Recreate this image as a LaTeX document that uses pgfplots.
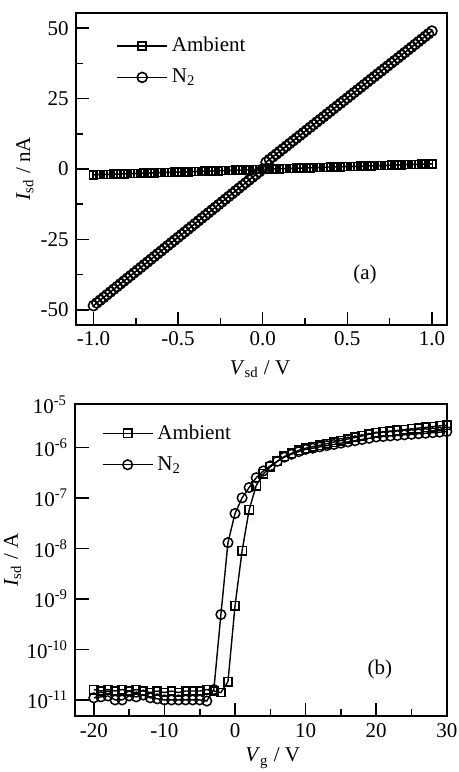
\documentclass[border=0pt]{standalone}
\usepackage{pgfplots}
\pgfplotsset{compat=1.18}
\usepackage{fontspec}
\setmainfont{Liberation Serif}

\newcommand{\fs}{\fontsize{10.5}{12}\selectfont}

\pgfplotsset{
  panel/.style={
    scale only axis,
    axis line style={line width=1pt},
    tick style={line width=0.8pt, black},
    major tick length=6.5pt, minor tick length=3.5pt,
    tick pos=left, tick align=inside,
    /pgf/number format/assume math mode=true,
    ticklabel style={font=\fs},
    label style={font=\fontsize{11}{13}\selectfont},
    legend style={draw=none, fill=none, font=\fs, inner sep=0pt, row sep=3pt},
    legend cell align=left,
    legend image code/.code={\draw[mark repeat=2, mark phase=2] plot coordinates {(0pt,0pt) (12.5pt,0pt) (25pt,0pt)};},
  },
}

\begin{document}
\fs
\begin{tikzpicture}
\useasboundingbox (0,0) rectangle (229.5pt,-386pt);

% (a) output curve
\begin{axis}[panel,
  at={(38pt,-6.65pt)}, anchor=north west,
  width=185.5pt, height=155.6pt,
  xmin=-1.103, xmax=1.089, ymin=-55.2, ymax=55.3,
  xtick={-1,-0.5,0,0.5,1}, xticklabels={-1.0,-0.5,0.0,0.5,1.0},
  ytick={-50,-25,0,25,50}, yticklabels={-50,-25,0,25,50},
  minor x tick num=1, minor y tick num=1,
  xlabel={\textit{V}\textsubscript{sd} / V},
  ylabel={\textit{I}\textsubscript{sd} / nA},
  every axis x label/.style={at={(axis description cs:0.496,-0.144)}, anchor=center},
  every axis y label/.style={at={(axis description cs:-0.1375,0.5)}, rotate=90, anchor=center},
  legend style={at={(axis description cs:0.108,0.845)}, anchor=west},
]
\addplot[black, line width=0.75pt, mark=square, mark size=2pt, mark options={solid, fill=white, line width=0.75pt}] coordinates {
(-1.00,-2.05) (-0.98,-2.01) (-0.96,-1.97) (-0.94,-1.93) (-0.92,-1.89) (-0.90,-1.86) (-0.88,-1.82) (-0.86,-1.78) (-0.84,-1.74) (-0.82,-1.70)
(-0.80,-1.66) (-0.78,-1.62) (-0.76,-1.58) (-0.74,-1.54) (-0.72,-1.50) (-0.70,-1.47) (-0.68,-1.43) (-0.66,-1.39) (-0.64,-1.35) (-0.62,-1.31)
(-0.60,-1.27) (-0.58,-1.23) (-0.56,-1.19) (-0.54,-1.15) (-0.52,-1.11) (-0.50,-1.08) (-0.48,-1.04) (-0.46,-1.00) (-0.44,-0.96) (-0.42,-0.92)
(-0.40,-0.88) (-0.38,-0.84) (-0.36,-0.80) (-0.34,-0.76) (-0.32,-0.72) (-0.30,-0.69) (-0.28,-0.65) (-0.26,-0.61) (-0.24,-0.57) (-0.22,-0.53)
(-0.20,-0.49) (-0.18,-0.45) (-0.16,-0.41) (-0.14,-0.37) (-0.12,-0.33) (-0.10,-0.30) (-0.08,-0.26) (-0.06,-0.22) (-0.04,-0.18) (-0.02,-0.14)
(0.00,-0.10) (0.02,-0.06) (0.04,-0.02) (0.06,0.02) (0.08,0.06) (0.10,0.10) (0.12,0.13) (0.14,0.17) (0.16,0.21) (0.18,0.25)
(0.20,0.29) (0.22,0.33) (0.24,0.37) (0.26,0.41) (0.28,0.45) (0.30,0.49) (0.32,0.52) (0.34,0.56) (0.36,0.60) (0.38,0.64)
(0.40,0.68) (0.42,0.72) (0.44,0.76) (0.46,0.80) (0.48,0.84) (0.50,0.88) (0.52,0.91) (0.54,0.95) (0.56,0.99) (0.58,1.03)
(0.60,1.07) (0.62,1.11) (0.64,1.15) (0.66,1.19) (0.68,1.23) (0.70,1.27) (0.72,1.30) (0.74,1.34) (0.76,1.38) (0.78,1.42)
(0.80,1.46) (0.82,1.50) (0.84,1.54) (0.86,1.58) (0.88,1.62) (0.90,1.66) (0.92,1.69) (0.94,1.73) (0.96,1.77) (0.98,1.81) (1.00,1.85)
};
\addlegendentry{Ambient}
\addplot[black, line width=0.75pt, mark=o, mark size=2.5pt, mark options={solid, fill=white, line width=0.8pt}] coordinates {
(-1.00,-48.50) (-0.98,-47.53) (-0.96,-46.56) (-0.94,-45.59) (-0.92,-44.62) (-0.90,-43.65) (-0.88,-42.68) (-0.86,-41.71) (-0.84,-40.74) (-0.82,-39.77)
(-0.80,-38.80) (-0.78,-37.83) (-0.76,-36.86) (-0.74,-35.89) (-0.72,-34.92) (-0.70,-33.95) (-0.68,-32.98) (-0.66,-32.01) (-0.64,-31.04) (-0.62,-30.07)
(-0.60,-29.10) (-0.58,-28.13) (-0.56,-27.16) (-0.54,-26.19) (-0.52,-25.22) (-0.50,-24.25) (-0.48,-23.28) (-0.46,-22.31) (-0.44,-21.34) (-0.42,-20.37)
(-0.40,-19.40) (-0.38,-18.43) (-0.36,-17.46) (-0.34,-16.49) (-0.32,-15.52) (-0.30,-14.55) (-0.28,-13.58) (-0.26,-12.61) (-0.24,-11.64) (-0.22,-10.67)
(-0.20,-9.70) (-0.18,-8.73) (-0.16,-7.76) (-0.14,-6.79) (-0.12,-5.82) (-0.10,-4.85) (-0.08,-3.88) (-0.06,-2.91) (-0.04,-1.94) (-0.02,-0.97)
(0.00,0.00) (0.02,2.45) (0.04,3.40) (0.06,4.35) (0.08,5.30) (0.10,6.25) (0.12,7.20) (0.14,8.15) (0.16,9.10) (0.18,10.05)
(0.20,11.00) (0.22,11.95) (0.24,12.90) (0.26,13.85) (0.28,14.80) (0.30,15.75) (0.32,16.70) (0.34,17.65) (0.36,18.60) (0.38,19.55)
(0.40,20.50) (0.42,21.45) (0.44,22.40) (0.46,23.35) (0.48,24.30) (0.50,25.25) (0.52,26.20) (0.54,27.15) (0.56,28.10) (0.58,29.05)
(0.60,30.00) (0.62,30.95) (0.64,31.90) (0.66,32.85) (0.68,33.80) (0.70,34.75) (0.72,35.70) (0.74,36.65) (0.76,37.60) (0.78,38.55)
(0.80,39.50) (0.82,40.45) (0.84,41.40) (0.86,42.35) (0.88,43.30) (0.90,44.25) (0.92,45.20) (0.94,46.15) (0.96,47.10) (0.98,48.05) (1.00,49.00)
};
\addlegendentry{N\textsubscript{2}}
\node at (rel axis cs:0.779,0.160) {(a)};
\end{axis}

% (b) transfer curve
\begin{axis}[panel,
  at={(37.75pt,-202.15pt)}, anchor=north west,
  width=186pt, height=155.85pt,
  ymode=log,
  xmin=-22.6, xmax=30.1, ymin=4.8e-12, ymax=7.1e-6,
  xtick={-20,-10,0,10,20,30}, xticklabels={-20,-10,0,10,20,30},
  minor x tick num=1,
  ytick={1e-11,1e-10,1e-9,1e-8,1e-7,1e-6},
  yticklabels={10\textsuperscript{-11},10\textsuperscript{-10},10\textsuperscript{-9},10\textsuperscript{-8},10\textsuperscript{-7},10\textsuperscript{-6}},
  yminorticks=false,
  xlabel={\textit{V}\textsubscript{g} / V},
  ylabel={\textit{I}\textsubscript{sd} / A},
  every axis x label/.style={at={(axis description cs:0.53,-0.135)}, anchor=center},
  every axis y label/.style={at={(axis description cs:-0.169,0.5)}, rotate=90, anchor=center},
  legend style={at={(axis description cs:0.07,0.857)}, anchor=west},
  clip=false,
]
\addplot[black, line width=0.7pt, mark=square, mark size=2.1pt, mark options={solid, fill=white, line width=0.75pt}] coordinates {
(-20,1.6e-11) (-19,1.5e-11) (-18,1.6e-11) (-17,1.5e-11) (-16,1.6e-11) (-15,1.5e-11) (-14,1.6e-11) (-13,1.5e-11) (-12,1.4e-11) (-11,1.5e-11)
(-10,1.4e-11) (-9,1.5e-11) (-8,1.4e-11) (-7,1.5e-11) (-6,1.5e-11) (-5,1.5e-11) (-4,1.6e-11) (-3,1.5e-11) (-2,1.4e-11) (-1,2.3e-11)
(0,7.3e-10) (1,8.9e-9) (2,5.8e-8) (3,1.75e-7) (4,3.0e-7) (5,4.1e-7) (6,5.3e-7) (7,6.6e-7) (8,7.6e-7) (9,8.7e-7)
(10,9.6e-7) (11,1.03e-6) (12,1.10e-6) (13,1.18e-6) (14,1.27e-6) (15,1.36e-6) (16,1.46e-6) (17,1.57e-6) (18,1.68e-6) (19,1.81e-6)
(20,1.95e-6) (21,2.02e-6) (22,2.09e-6) (23,2.16e-6) (24,2.24e-6) (25,2.32e-6) (26,2.40e-6) (27,2.48e-6) (28,2.57e-6) (29,2.66e-6) (30,2.75e-6)
};
\addlegendentry{Ambient}
\addplot[black, line width=0.7pt, mark=o, mark size=2.4pt, mark options={solid, fill=white, line width=0.75pt}] coordinates {
(-20,1.1e-11) (-19,1.15e-11) (-18,1.2e-11) (-17,1.0e-11) (-16,1.0e-11) (-15,1.2e-11) (-14,1.15e-11) (-13,1.25e-11) (-12,1.1e-11) (-11,1.05e-11)
(-10,1.0e-11) (-9,1.0e-11) (-8,1.0e-11) (-7,1.0e-11) (-6,1.0e-11) (-5,1.0e-11) (-4,0.95e-11) (-3,1.6e-11) (-2,4.9e-10) (-1,1.3e-8)
(0,4.9e-8) (1,1.0e-7) (2,1.6e-7) (3,2.5e-7) (4,3.4e-7) (5,4.3e-7) (6,5.3e-7) (7,6.4e-7) (8,7.3e-7) (9,8.2e-7)
(10,9.1e-7) (11,9.6e-7) (12,1.02e-6) (13,1.08e-6) (14,1.14e-6) (15,1.21e-6) (16,1.28e-6) (17,1.35e-6) (18,1.43e-6) (19,1.51e-6)
(20,1.60e-6) (21,1.64e-6) (22,1.68e-6) (23,1.72e-6) (24,1.77e-6) (25,1.81e-6) (26,1.86e-6) (27,1.90e-6) (28,1.95e-6) (29,2.00e-6) (30,2.05e-6)
};
\addlegendentry{N\textsubscript{2}}
\node at (rel axis cs:0.818,0.151) {(b)};
\node[anchor=east, inner sep=0pt, xshift=-4pt] at (rel axis cs:0,1) {10\textsuperscript{-5}};
\end{axis}
\end{tikzpicture}
\end{document}
